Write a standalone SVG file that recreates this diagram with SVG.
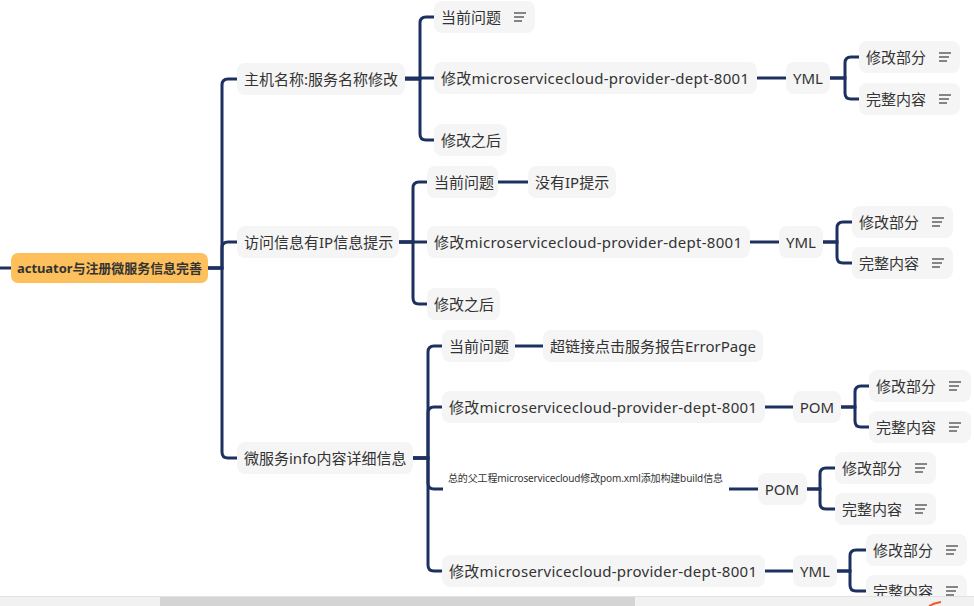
<svg xmlns="http://www.w3.org/2000/svg" xmlns:xlink="http://www.w3.org/1999/xlink" width="974" height="606" viewBox="0 0 974 606">
  <style>
    .node rect { fill: #f5f5f5; }
    .node text { font-family: "Noto Sans", "Noto Sans CJK SC", sans-serif; font-size: 15px; fill: #333333; dominant-baseline: central; }
    .root rect { fill: #fdc05c; }
    .root text { font-family: "Noto Sans", "Noto Sans CJK SC", sans-serif; font-size: 13px; font-weight: bold; fill: #333333; dominant-baseline: central; }
    .small text { font-size: 10px; }
    .mid { text-anchor: middle; }
    #connectors path { fill: none; stroke: #1d3160; stroke-width: 3; stroke-linecap: butt; }
    .note line { stroke: #555555; stroke-width: 1.4; }
  </style>
  <defs>
    <!-- note icon: three stacked strokes -->
    <g id="note" class="note">
      <line x1="0" y1="-4" x2="12" y2="-4"/>
      <line x1="0" y1="0" x2="10" y2="0"/>
      <line x1="0" y1="4" x2="8" y2="4"/>
    </g>
  </defs>
  <rect width="974" height="606" fill="#ffffff"/>

  <g id="connectors">
    <path d="M0,268 H11"/>
    <!-- root to branches -->
    <path d="M208,268 H222 V85 Q222,79 228,79 H237"/>
    <path d="M208,268 H222 V248 Q222,242 228,242 H237"/>
    <path d="M208,268 H222 V452 Q222,458 228,458 H237"/>
    <!-- branch 1 -->
    <path d="M405,79 H420 V23 Q420,17 426,17 H434"/>
    <path d="M405,78 H434"/>
    <path d="M405,79 H420 V134 Q420,140 426,140 H434"/>
    <path d="M757,78 H786"/>
    <path d="M830,78 H845 V63 Q845,57 851,57 H859"/>
    <path d="M830,78 H845 V93 Q845,99 851,99 H859"/>
    <!-- branch 2 -->
    <path d="M399,242 H413 V188 Q413,182 419,182 H427"/>
    <path d="M399,242 H427"/>
    <path d="M399,242 H413 V298 Q413,304 419,304 H427"/>
    <path d="M498,182 H528"/>
    <path d="M750,242 H779"/>
    <path d="M823,242 H837 V228 Q837,222 843,222 H852"/>
    <path d="M823,242 H837 V257 Q837,263 843,263 H852"/>
    <!-- branch 3 -->
    <path d="M413,458 H428 V352 Q428,346 434,346 H442"/>
    <path d="M413,458 H428 V413 Q428,407 434,407 H442"/>
    <path d="M413,458 H428 V483 Q428,489 434,489 H443"/>
    <path d="M413,458 H428 V565 Q428,571 434,571 H442"/>
    <path d="M515,346 H543"/>
    <path d="M765,407 H793"/>
    <path d="M841,407 H855 V392 Q855,386 861,386 H869"/>
    <path d="M841,407 H855 V421 Q855,427 861,427 H869"/>
    <path d="M729,489 H758"/>
    <path d="M807,489 H820 V474 Q820,468 826,468 H835"/>
    <path d="M807,489 H820 V503 Q820,509 826,509 H835"/>
    <path d="M765,571 H793"/>
    <path d="M837,571 H850 V556 Q850,550 856,550 H866"/>
    <path d="M837,571 H850 V585 Q850,591 856,591 H866"/>
  </g>

  <g id="root" class="root">
    <rect x="11" y="253" width="197" height="30" rx="7"/>
    <text x="17" y="268" textLength="185" lengthAdjust="spacing">actuator与注册微服务信息完善</text>
  </g>

  <!-- branch 1 -->
  <g id="b1" class="node">
    <rect x="237" y="63" width="168" height="32" rx="8"/>
    <text x="244" y="79">主机名称:服务名称修改</text>
  </g>
  <g id="b1-problem" class="node">
    <rect x="434" y="1" width="101" height="32" rx="8"/>
    <text x="441" y="17">当前问题</text>
    <use href="#note" x="514" y="17"/>
  </g>
  <g id="b1-modify" class="node">
    <rect x="434" y="62" width="323" height="32" rx="8"/>
    <text x="441" y="78" textLength="308" lengthAdjust="spacing">修改microservicecloud-provider-dept-8001</text>
  </g>
  <g id="b1-yml" class="node">
    <rect x="786" y="62" width="44" height="32" rx="8"/>
    <text class="mid" x="808" y="78">YML</text>
  </g>
  <g id="b1-yml-part" class="node">
    <rect x="859" y="41" width="101" height="32" rx="8"/>
    <text x="866" y="57">修改部分</text>
    <use href="#note" x="939" y="57"/>
  </g>
  <g id="b1-yml-full" class="node">
    <rect x="859" y="83" width="101" height="32" rx="8"/>
    <text x="866" y="99">完整内容</text>
    <use href="#note" x="939" y="99"/>
  </g>
  <g id="b1-after" class="node">
    <rect x="434" y="124" width="73" height="32" rx="8"/>
    <text x="441" y="140">修改之后</text>
  </g>

  <!-- branch 2 -->
  <g id="b2" class="node">
    <rect x="237" y="226" width="162" height="32" rx="8"/>
    <text x="244" y="242">访问信息有IP信息提示</text>
  </g>
  <g id="b2-problem" class="node">
    <rect x="427" y="166" width="71" height="32" rx="8"/>
    <text x="434" y="182">当前问题</text>
  </g>
  <g id="b2-noip" class="node">
    <rect x="528" y="166" width="88" height="32" rx="8"/>
    <text x="535" y="182">没有IP提示</text>
  </g>
  <g id="b2-modify" class="node">
    <rect x="427" y="226" width="323" height="32" rx="8"/>
    <text x="434" y="242" textLength="308" lengthAdjust="spacing">修改microservicecloud-provider-dept-8001</text>
  </g>
  <g id="b2-yml" class="node">
    <rect x="779" y="226" width="44" height="32" rx="8"/>
    <text class="mid" x="801" y="242">YML</text>
  </g>
  <g id="b2-yml-part" class="node">
    <rect x="852" y="206" width="101" height="32" rx="8"/>
    <text x="859" y="222">修改部分</text>
    <use href="#note" x="932" y="222"/>
  </g>
  <g id="b2-yml-full" class="node">
    <rect x="852" y="247" width="101" height="32" rx="8"/>
    <text x="859" y="263">完整内容</text>
    <use href="#note" x="932" y="263"/>
  </g>
  <g id="b2-after" class="node">
    <rect x="427" y="288" width="73" height="32" rx="8"/>
    <text x="434" y="304">修改之后</text>
  </g>

  <!-- branch 3 -->
  <g id="b3" class="node">
    <rect x="237" y="442" width="176" height="32" rx="8"/>
    <text x="244" y="458">微服务info内容详细信息</text>
  </g>
  <g id="b3-problem" class="node">
    <rect x="442" y="330" width="73" height="32" rx="8"/>
    <text x="449" y="346">当前问题</text>
  </g>
  <g id="b3-errorpage" class="node">
    <rect x="543" y="330" width="220" height="32" rx="8"/>
    <text x="550" y="346">超链接点击服务报告ErrorPage</text>
  </g>
  <g id="b3-modify-pom" class="node">
    <rect x="442" y="391" width="323" height="32" rx="8"/>
    <text x="449" y="407" textLength="308" lengthAdjust="spacing">修改microservicecloud-provider-dept-8001</text>
  </g>
  <g id="b3-pom" class="node">
    <rect x="793" y="391" width="48" height="32" rx="8"/>
    <text class="mid" x="817" y="407">POM</text>
  </g>
  <g id="b3-pom-part" class="node">
    <rect x="869" y="370" width="102" height="32" rx="8"/>
    <text x="876" y="386">修改部分</text>
    <use href="#note" x="949" y="386"/>
  </g>
  <g id="b3-pom-full" class="node">
    <rect x="869" y="411" width="102" height="32" rx="8"/>
    <text x="876" y="427">完整内容</text>
    <use href="#note" x="949" y="427"/>
  </g>
  <g id="b3-parent" class="node small">
    <text x="448" y="478" textLength="275" lengthAdjust="spacing">总的父工程microservicecloud修改pom.xml添加构建build信息</text>
  </g>
  <g id="b3-parent-pom" class="node">
    <rect x="758" y="473" width="49" height="32" rx="8"/>
    <text class="mid" x="782" y="489">POM</text>
  </g>
  <g id="b3-parent-part" class="node">
    <rect x="835" y="452" width="101" height="32" rx="8"/>
    <text x="842" y="468">修改部分</text>
    <use href="#note" x="915" y="468"/>
  </g>
  <g id="b3-parent-full" class="node">
    <rect x="835" y="493" width="101" height="32" rx="8"/>
    <text x="842" y="509">完整内容</text>
    <use href="#note" x="915" y="509"/>
  </g>
  <g id="b3-modify-yml" class="node">
    <rect x="442" y="555" width="323" height="32" rx="8"/>
    <text x="449" y="571" textLength="308" lengthAdjust="spacing">修改microservicecloud-provider-dept-8001</text>
  </g>
  <g id="b3-yml" class="node">
    <rect x="793" y="555" width="44" height="32" rx="8"/>
    <text class="mid" x="815" y="571">YML</text>
  </g>
  <g id="b3-yml-part" class="node">
    <rect x="866" y="534" width="101" height="32" rx="8"/>
    <text x="873" y="550">修改部分</text>
    <use href="#note" x="946" y="550"/>
  </g>
  <g id="b3-yml-full" class="node">
    <rect x="866" y="575" width="101" height="32" rx="8"/>
    <text x="873" y="591">完整内容</text>
    <use href="#note" x="946" y="591"/>
  </g>

  <!-- horizontal scrollbar along the bottom edge -->
  <g id="scrollbar">
    <rect x="0" y="596" width="974" height="10" fill="#f1f1f1"/>
    <line x1="0" y1="596.5" x2="974" y2="596.5" stroke="#e2e2e2" stroke-width="1"/>
    <rect x="160" y="597" width="475" height="9" fill="#d4d4d4"/>
    <path d="M929,606 Q934,603 941,602" fill="none" stroke="#f05a2a" stroke-width="2"/>
  </g>
</svg>
